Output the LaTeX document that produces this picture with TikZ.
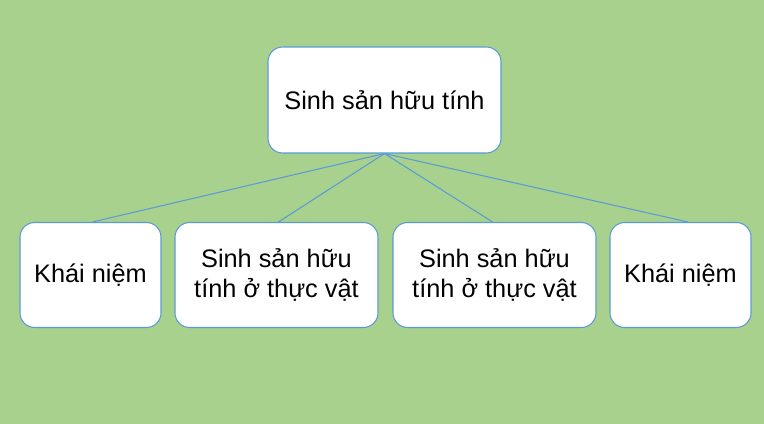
\documentclass[tikz,border=0pt]{standalone}
\usepackage{fontspec}
\setmainfont{Liberation Sans}
\definecolor{bg}{HTML}{A9D18E}
\definecolor{edge}{HTML}{5B9BD5}
\begin{document}
\begin{tikzpicture}[x=0.75pt,y=-0.75pt,
  box/.style={draw=edge,line width=0.8pt,fill=white,rounded corners=11pt,inner sep=0pt,
    font=\fontsize{19}{22.5}\selectfont,align=center},
  link/.style={draw=edge,line width=0.8pt}]
\fill[bg] (0,0) rectangle (764,424);
\useasboundingbox (0,0) rectangle (764,424);
\node[box,minimum width=233*0.75pt,minimum height=106*0.75pt] (top) at (384.5,100) {Sinh sản hữu tính};
\node[box,minimum width=141*0.75pt,minimum height=105*0.75pt] (a) at (90.5,275) {Khái niệm};
\node[box,minimum width=203*0.75pt,minimum height=105*0.75pt] (b) at (276.5,275) {Sinh sản hữu\\tính ở thực vật};
\node[box,minimum width=203*0.75pt,minimum height=105*0.75pt] (c) at (494.5,275) {Sinh sản hữu\\tính ở thực vật};
\node[box,minimum width=141*0.75pt,minimum height=105*0.75pt] (d) at (680.5,275) {Khái niệm};
\draw[link] (top.south) -- ([xshift=1.5]a.north);
\draw[link] (top.south) -- ([xshift=1.5]b.north);
\draw[link] (top.south) -- ([xshift=-1.5]c.north);
\draw[link] (top.south) -- ([xshift=5.5]d.north);
\end{tikzpicture}
\end{document}
